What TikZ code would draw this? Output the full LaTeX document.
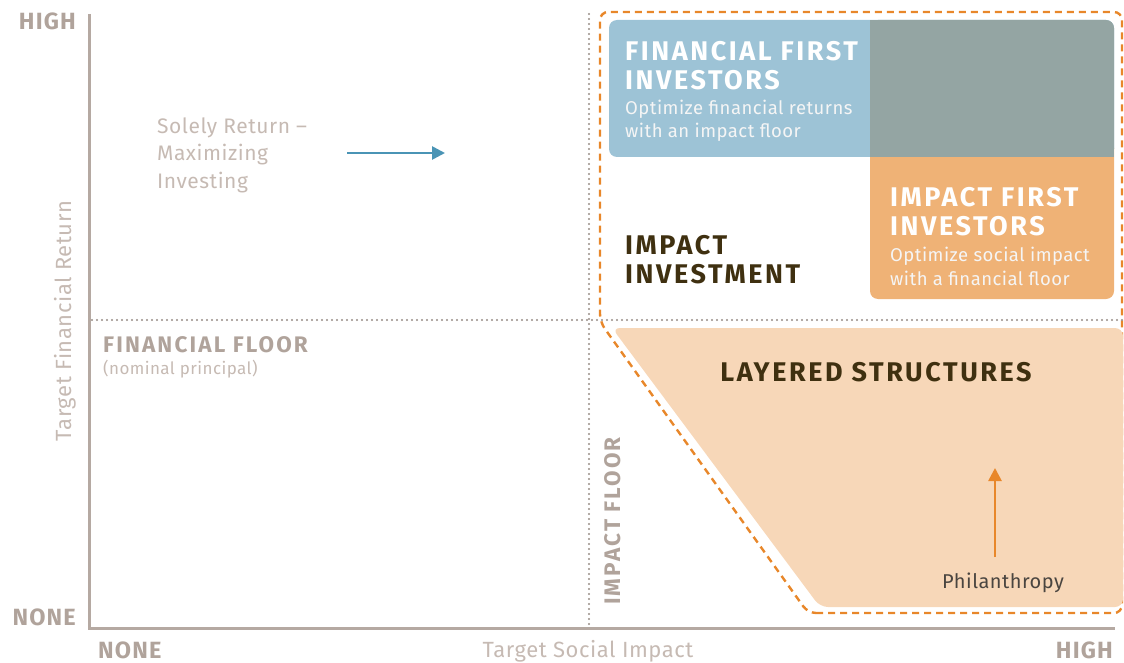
\documentclass[tikz,border=0pt]{standalone}
\usepackage{fontspec}
\setmainfont{Fira Sans}
\newfontfamily\hfont[LetterSpace=9.5]{Fira Sans}
\newfontfamily\tfont[LetterSpace=5]{Fira Sans}
\newfontfamily\bfont[LetterSpace=2.5]{Fira Sans}
\usetikzlibrary{arrows.meta}
\definecolor{axisc}{HTML}{B5A9A2}
\definecolor{labc}{HTML}{C6BAB3}
\definecolor{tickc}{HTML}{B0A39B}
\definecolor{dotc}{HTML}{988C86}
\definecolor{bluebox}{HTML}{9DC3D6}
\definecolor{greybox}{HTML}{94A5A3}
\definecolor{orangebox}{HTML}{EFB276}
\definecolor{layerbox}{HTML}{F7D7B8}
\definecolor{dashc}{HTML}{E8872A}
\definecolor{bluearrow}{HTML}{4A94B5}
\definecolor{darktext}{HTML}{3F3010}
\definecolor{philc}{HTML}{4A4540}
\tikzset{
  axisline/.style={draw=axisc, line width=3pt},
  dotline/.style={draw=dotc, line width=2.3pt, dash pattern=on 0pt off 5pt, line cap=round},
  dashline/.style={draw=dashc, line width=2.4pt, dash pattern=on 7pt off 5pt},
  ticklab/.style={text=tickc, font=\tfont\fontsize{23.5}{25}\selectfont\bfseries, inner sep=0pt},
  axislab/.style={text=labc, font=\bfont\fontsize{22}{25}\selectfont, inner sep=0pt},
  whitehead/.style={text=white, font=\hfont\fontsize{27}{30}\selectfont\bfseries, inner sep=0pt, anchor=base west},
  whitesub/.style={text=white!92!gray, font=\bfont\fontsize{18.5}{22}\selectfont, inner sep=0pt, anchor=base west},
  darkhead/.style={text=darktext, font=\hfont\fontsize{27}{30}\selectfont\bfseries, inner sep=0pt},
  greytext/.style={text=labc, font=\bfont\fontsize{21}{24}\selectfont, inner sep=0pt, anchor=base west},
  arrowline/.style={line width=2.6pt, -{Triangle[length=13pt,width=13pt]}},
}
\begin{document}
\begin{tikzpicture}[x=1pt,y=-1pt]
\useasboundingbox (0,0) rectangle (1124,663);
% dashed orange outline
\draw[dashline, rounded corners=8pt] (808,613) -- (1122,613) -- (1122,12) -- (600,12) -- (600,322) -- cycle;
% boxes
\fill[bluebox, rounded corners=8pt] (609,20) rectangle (1114,157);
\fill[orangebox, rounded corners=8pt] (870,140) rectangle (1114,299);
\fill[greybox, rounded corners=8pt] (870,20) rectangle (1114,157);
\fill[greybox] (870,20) rectangle (990,157);
\fill[greybox] (870,90) rectangle (1114,157);
\fill[layerbox, rounded corners=8pt] (612,328) -- (1123,328) -- (1123,607) -- (820,607) -- cycle;
% dotted floors
\coordinate (ffl) at (92,320);
\coordinate (ffr) at (1122,320);
\coordinate (ift) at (589,14);
\coordinate (ifb) at (589,626);
\draw[dotline] (ffl) -- (ffr);
\draw[dotline] (ift) -- (ifb);
% axes
\coordinate (otop) at (89,14);
\coordinate (orig) at (89,628);
\coordinate (oright) at (1115,628);
\draw[axisline] (otop) -- (orig) -- (oright);
% tick labels
\node[ticklab, anchor=base east] (yhigh) at (76,30) {HIGH};
\node[ticklab, anchor=base east] (ynone) at (76,625) {NONE};
\node[ticklab, anchor=base west] (xnone) at (98,658) {NONE};
\node[ticklab, anchor=base east] (xhigh) at (1113,658) {HIGH};
\node[axislab, anchor=base] (xlab) at (588,657) {Target Social Impact};
\node[axislab, anchor=base, rotate=90] (ylab) at (71,321) {Target Financial Return};
% solely return
\node[greytext] (sr1) at (157,134) {Solely Return –};
\node[greytext] (sr2) at (157,161) {Maximizing};
\node[greytext] (sr3) at (157,189) {Investing};
\coordinate (ba1) at (347,153);
\coordinate (ba2) at (445,153);
\draw[arrowline, bluearrow] (ba1) -- (ba2);
% financial floor
\node[ticklab, font=\hfont\fontsize{22.5}{24}\selectfont\bfseries, anchor=base west] (ff) at (103,352) {FINANCIAL FLOOR};
\node[greytext, font=\bfont\fontsize{17}{20}\selectfont] (np) at (103,374) {(nominal principal)};
% impact floor
\node[ticklab, font=\hfont\fontsize{22.5}{24}\selectfont\bfseries, anchor=base, rotate=90] (ifl) at (620,521) {IMPACT FLOOR};
% financial first
\node[whitehead] (ff1) at (625,61) {FINANCIAL FIRST};
\node[whitehead] (ff2) at (625,90) {INVESTORS};
\node[whitesub] (ff3) at (625,115) {Optimize financial returns};
\node[whitesub] (ff4) at (625,138) {with an impact floor};
% impact first
\node[whitehead] (if1) at (890,207) {IMPACT FIRST};
\node[whitehead] (if2) at (890,236) {INVESTORS};
\node[whitesub] (if3) at (890,261) {Optimize social impact};
\node[whitesub] (if4) at (890,285) {with a financial floor};
% impact investment
\node[darkhead, anchor=base west] (ii1) at (625,254) {IMPACT};
\node[darkhead, anchor=base west] (ii2) at (625,283) {INVESTMENT};
% layered
\node[darkhead, anchor=base] (ls) at (876,381) {LAYERED STRUCTURES};
\coordinate (oa1) at (995,557);
\coordinate (oa2) at (995,468);
\draw[arrowline, dashc] (oa1) -- (oa2);
\node[greytext, text=philc, font=\bfont\fontsize{20}{22}\selectfont] (ph) at (942,588) {Philanthropy};
\end{tikzpicture}
\end{document}
